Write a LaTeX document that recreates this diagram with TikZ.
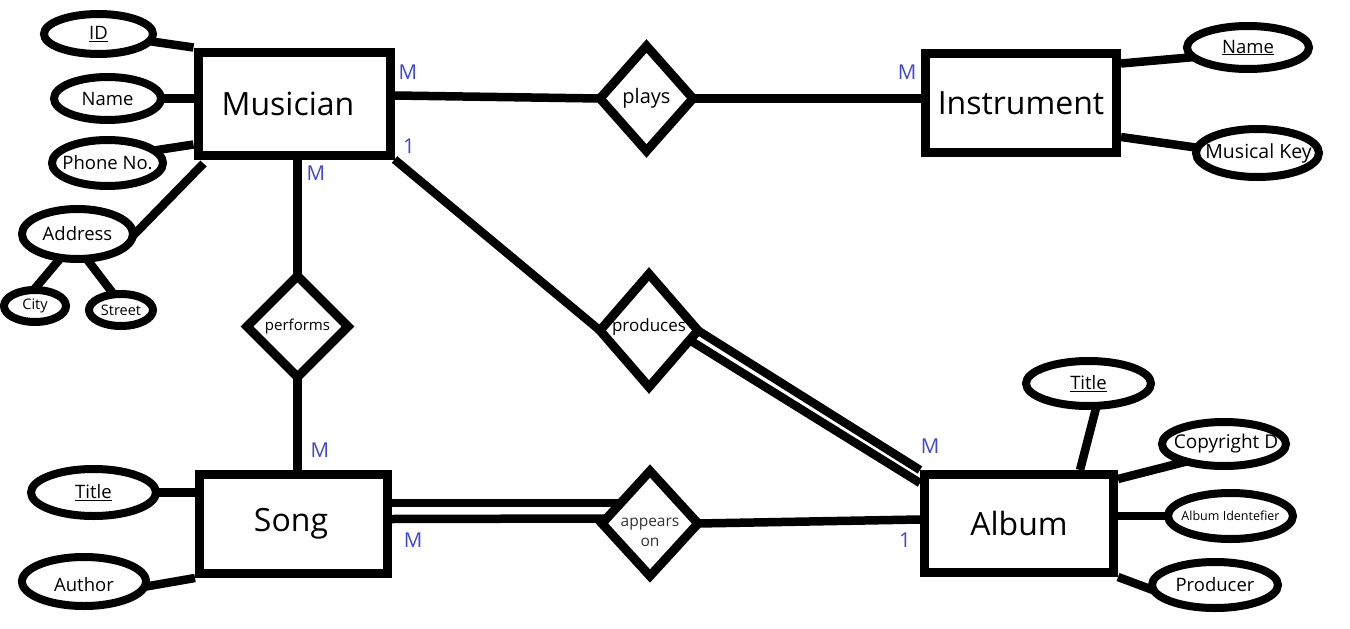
\documentclass[tikz,border=0pt]{standalone}
\usepackage{fontspec}
\setmainfont{Open Sans}
\usetikzlibrary{shapes.geometric,calc}
\definecolor{cardblue}{RGB}{64,72,210}
\begin{document}
\begin{tikzpicture}[x=1pt,y=-1pt,
  entity/.style={draw, line width=9pt, rectangle, inner sep=0pt, font=\fontsize{32}{38}\selectfont},
  attr/.style={draw, line width=8pt, ellipse, inner sep=0pt, outer sep=0pt},
  rel/.style={draw, line width=9pt, diamond, inner sep=0pt, outer sep=0pt},
  conn/.style={line width=8.5pt},
  atext/.style={font=\fontsize{18.5}{22}\selectfont},
  card/.style={text=cardblue, font=\fontsize{20.5}{24}\selectfont, inner sep=0pt}]
\fill[white] (0,0) rectangle (1350,629);
\useasboundingbox (0,0) rectangle (1350,629);

% entities
\node[entity, minimum width=192, minimum height=103] (mus) at (294,103.5) {Musician\hspace*{12pt}};
\node[entity, minimum width=191, minimum height=99] (inst) at (1021,103) {Instrument};
\node[entity, minimum width=188, minimum height=99] (song) at (293.5,524) {Song\hspace*{5pt}};
\node[entity, minimum width=189, minimum height=98] (album) at (1019,523.5) {Album};

% relationships
\node[rel, minimum width=93, minimum height=105,
  label={[font=\fontsize{20}{24}\selectfont]center:plays}] (plays) at (646.5,98.5) {};
\node[rel, minimum width=98, minimum height=113,
  label={[font=\fontsize{17}{20}\selectfont, yshift=3pt]center:produces}] (prod) at (649,330.5) {};
\node[rel, minimum width=101, minimum height=101,
  label={[font=\fontsize{15}{18}\selectfont]center:performs}] (perf) at (297.5,326.5) {};
\node[rel, minimum width=96, minimum height=105,
  label={[font=\fontsize{15.5}{20}\selectfont, align=center, text=black!80, yshift=-9pt]center:appears\\on}] (app) at (650,523.5) {};

% musician attributes
\node[attr, minimum width=109, minimum height=40, label={[atext]center:\underline{ID}}] (id) at (98.5,34) {};
\node[attr, minimum width=107, minimum height=43, label={[atext]center:Name}] (mname) at (107.5,98.5) {};
\node[attr, minimum width=111, minimum height=46, label={[atext]center:Phone No.}] (phone) at (107.5,163) {};
\node[attr, minimum width=111, minimum height=50, label={[atext]center:Address}] (addr) at (77.5,234) {};
\node[attr, minimum width=62, minimum height=32, label={[font=\fontsize{14.5}{17}\selectfont]center:City}] (city) at (35,306) {};
\node[attr, minimum width=64, minimum height=32, label={[font=\fontsize{14.5}{17}\selectfont]center:Street}] (street) at (121,310) {};

% instrument attributes
\node[attr, minimum width=122, minimum height=43, label={[atext]center:\underline{Name}}] (iname) at (1248,47.5) {};
\node[attr, minimum width=123, minimum height=48, label={[font=\fontsize{19.5}{23}\selectfont, xshift=1pt]center:Musical Key}] (muskey) at (1257.5,153) {};

% song attributes
\node[attr, minimum width=125, minimum height=47, label={[atext]center:\underline{Title}}] (stitle) at (93.5,492.5) {};
\node[attr, minimum width=124, minimum height=49, label={[atext, yshift=-3pt]center:Author}] (author) at (84,581.5) {};

% album attributes
\node[attr, minimum width=125, minimum height=45, label={[atext]center:\underline{Title}}] (atitle) at (1088.5,383.5) {};
\node[attr, minimum width=124, minimum height=44, label={[font=\fontsize{19}{22}\selectfont, xshift=2pt]center:Copyright D}] (copy) at (1224,444) {};
\node[attr, minimum width=125, minimum height=46, label={[font=\fontsize{12.5}{15}\selectfont]center:Album Identefier}] (albid) at (1230.5,516) {};
\node[attr, minimum width=126, minimum height=46, label={[atext]center:Producer}] (producer) at (1215,585) {};

% connectors: musician attributes
\draw[conn] (id.-8) -- (mus.north west);
\draw[conn] (mname.east) -- (mname.east -| mus.west);
\draw[conn] (phone.15) -- ([yshift=15pt]mus.south west);
\draw[conn] (addr.-2) -- ([xshift=10pt,yshift=-4pt]mus.south west);
\draw[conn] (addr.235) -- (city.95);
\draw[conn] (addr.290) -- (street.115);

% instrument
\draw[conn] ([yshift=-14.5pt]inst.north east) -- (iname.190);
\draw[conn] ([yshift=20pt]inst.south east) -- (muskey.175);

% relationships
\draw[conn] ([yshift=8pt]mus.east) -- (plays.west);
\draw[conn] (plays.east) -- (plays.east -| inst.west);
\draw[conn] (mus.south east) -- (prod.west);
\draw[conn] (prod.east) -- (album.north west);
\draw[conn] ($(prod.east)!0.17!(prod.south)$) -- ([yshift=-13pt]album.north west);
\draw[conn] (perf.north |- mus.south) -- (perf.north);
\draw[conn] (perf.south) -- ([xshift=4pt]song.north);
\draw[conn] (app.145 -| song.east) -- (app.145);
\draw[conn] ([yshift=5pt]song.east) -- ([yshift=5pt,xshift=3pt]app.west);
\draw[conn] (app.east) -- ([yshift=4pt]album.west);

% song attributes
\draw[conn] (stitle.east) -- (stitle.east -| song.west);
\draw[conn] (author.-5) -- (song.south west);

% album attributes
\draw[conn] (atitle.-70) -- ([xshift=61pt]album.north);
\draw[conn] ([yshift=-9pt]album.north east) -- (copy.205);
\draw[conn] (albid.west -| album.east) -- (albid.west);
\draw[conn] (album.south east) -- (producer.185);

% cardinalities
\node[card] (c1) at (408,72) {M};
\node[card] (c2) at (409,146) {1};
\node[card] (c3) at (907,72) {M};
\node[card] (c4) at (316,173) {M};
\node[card] (c5) at (320,450) {M};
\node[card] (c6) at (930,446) {M};
\node[card] (c7) at (413,540) {M};
\node[card] (c8) at (905,540) {1};
\end{tikzpicture}
\end{document}
